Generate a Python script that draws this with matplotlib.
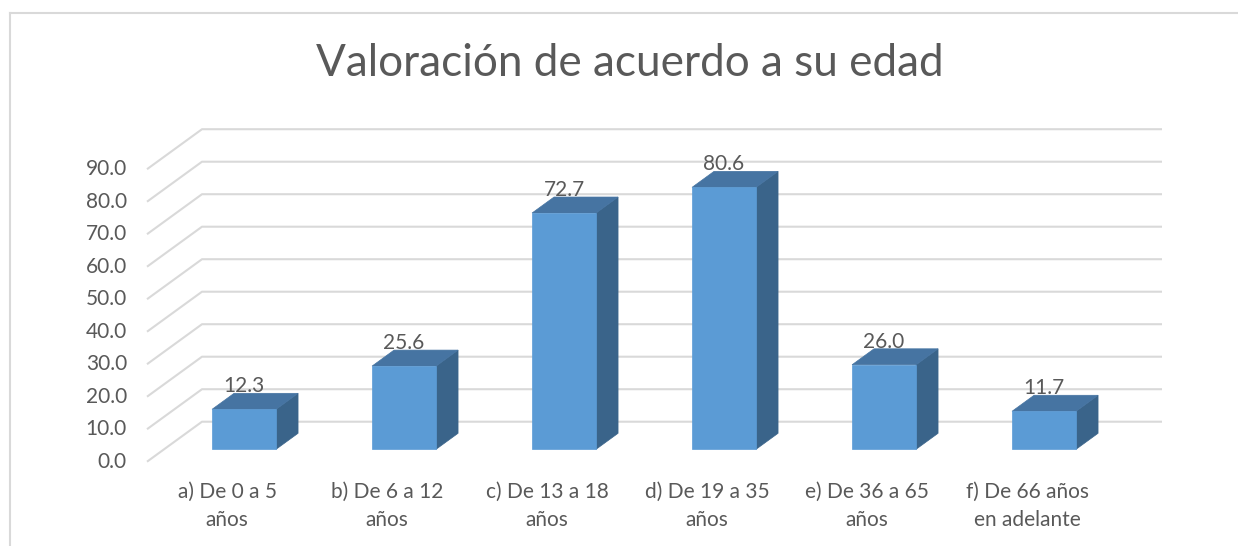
import matplotlib
matplotlib.use("Agg")
import matplotlib.pyplot as plt
from matplotlib.patches import Polygon
from matplotlib.lines import Line2D

# ---- data ----
title = "Valoración de acuerdo a su edad"
categories = ["a) De 0 a 5\naños", "b) De 6 a 12\naños", "c) De 13 a 18\naños",
              "d) De 19 a 35\naños", "e) De 36 a 65\naños", "f) De 66 años\nen adelante"]
values = [12.3, 25.6, 72.7, 80.6, 26.0, 11.7]
yticks = [0, 10, 20, 30, 40, 50, 60, 70, 80, 90]

# ---- style ----
FONT = ["Lato", "DejaVu Sans"]
TXT = "#595959"
GRID = "#D9D9D9"
FRONT = "#5B9BD5"
TOP = "#4674A2"
SIDE = "#3A648A"

W, H = 1238, 546
fig = plt.figure(figsize=(W / 100, H / 100), dpi=100)
ax = fig.add_axes([0, 0, 1, 1])
# pixel mapping: category i front center at 227+160*i; value v at front plane -> 461.7-3.25*v
PX_X, X0 = 160.0, 227.0
PX_V, Y0 = 3.25, 461.7
ax.set_xlim((0 - X0) / PX_X, (W - X0) / PX_X)
ax.set_ylim((Y0 - H) / PX_V, Y0 / PX_V)
ax.axis("off")

DX = 55 / PX_X     # depth offset in x units (full depth)
DV = 40 / PX_V     # depth offset in value units (full depth)


def proj(x, v, d):
    return (x + DX * d, v + DV * d)


xl, xr = -0.5, len(categories) - 0.5
# gridlines (side wall diagonal + back wall)
for t in yticks:
    p0 = proj(xl, t, 0)
    p1 = proj(xl, t, 1)
    p2 = proj(xr, t, 1)
    ax.plot([p0[0], p1[0], p2[0]], [p0[1], p1[1], p2[1]], color=GRID, lw=1.5,
            solid_capstyle="butt", zorder=1)
    ax.text((127 - X0) / PX_X, t, f"{t:.1f}", ha="right", va="center",
            fontsize=15, color=TXT, family=FONT)

# bars
hw = 0.2
d0, d1 = 0.31, 0.71
for i, v in enumerate(values):
    front = [proj(i - hw, 0, d0), proj(i + hw, 0, d0), proj(i + hw, v, d0), proj(i - hw, v, d0)]
    top = [proj(i - hw, v, d0), proj(i + hw, v, d0), proj(i + hw, v, d1), proj(i - hw, v, d1)]
    side = [proj(i + hw, 0, d0), proj(i + hw, 0, d1), proj(i + hw, v, d1), proj(i + hw, v, d0)]
    ax.add_patch(Polygon(side, closed=True, facecolor=SIDE, edgecolor=SIDE, lw=0.5, zorder=3))
    ax.add_patch(Polygon(top, closed=True, facecolor=TOP, edgecolor=TOP, lw=0.5, zorder=3))
    ax.add_patch(Polygon(front, closed=True, facecolor=FRONT, edgecolor=FRONT, lw=0.5, zorder=4))
    lx, _ = proj(i, v, d0)
    _, ly = proj(i, v, d1)
    ax.text(lx, ly + 0.3, f"{v:.1f}", ha="center", va="baseline",
            fontsize=15, color=TXT, family=FONT, zorder=5)

# category labels
for i, c in enumerate(categories):
    ax.text(i, (Y0 - 506) / PX_V, c, ha="center", va="center", fontsize=15,
            color=TXT, family=FONT, linespacing=1.55)

# title
fig.text(630 / W, 1 - 63 / H, title, ha="center", va="center", fontsize=31.8,
         color=TXT, family=FONT)

# chart border (partially visible)
fig.add_artist(Line2D([9.5 / W, 1], [1 - 12.5 / H, 1 - 12.5 / H], transform=fig.transFigure,
                      color=GRID, lw=1.5))
fig.add_artist(Line2D([9.5 / W, 9.5 / W], [0, 1 - 12.5 / H], transform=fig.transFigure,
                      color=GRID, lw=1.5))

fig.savefig("out.png", dpi=100, facecolor="white")
